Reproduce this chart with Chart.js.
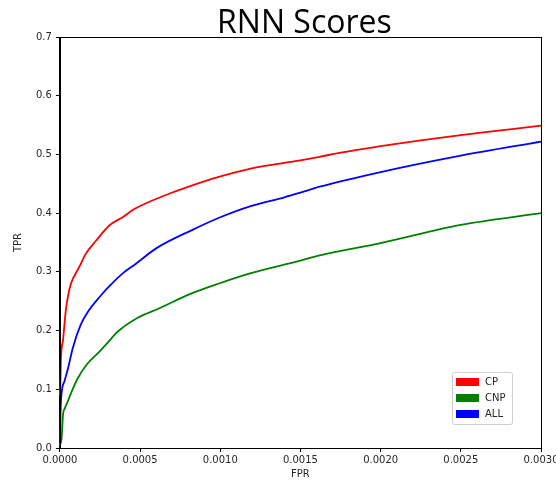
<!DOCTYPE html>
<html>
<head>
<meta charset="utf-8">
<script src="https://cdn.jsdelivr.net/npm/chart.js@4.4.0/dist/chart.umd.min.js"></script>
<style>
  html, body { margin: 0; padding: 0; background: #fff; overflow: hidden; }
  #wrap { position: relative; width: 580px; height: 481px; }
</style>
</head>
<body>
<div id="wrap"><canvas id="rocChart"></canvas></div>
<script>
// FPR / TPR points
const cpFpr  = [0, 0.000002, 0.000006, 0.00002, 0.000037, 0.00005, 0.000069, 0.00012, 0.000162, 0.000225, 0.000308, 0.000391, 0.000464, 0.00058, 0.00068, 0.00079, 0.00098, 0.00119, 0.0015, 0.00162, 0.00175, 0.002, 0.00225, 0.0025, 0.00275, 0.003];
const cpTpr  = [0.09, 0.10, 0.149, 0.185, 0.235, 0.258, 0.28, 0.308, 0.331, 0.353, 0.379, 0.393, 0.407, 0.422, 0.433, 0.444, 0.461, 0.476, 0.490, 0.496, 0.503, 0.514, 0.524, 0.533, 0.541, 0.549];

const cnpFpr = [0, 0.00001, 0.00002, 0.00003, 0.00005, 0.00007, 0.00011, 0.00017, 0.00025, 0.00029, 0.00036, 0.00048, 0.00062, 0.00081, 0.00098, 0.00118, 0.0015, 0.00162, 0.002, 0.0025, 0.003];
const cnpTpr = [0.005, 0.015, 0.058, 0.067, 0.08, 0.094, 0.118, 0.143, 0.165, 0.177, 0.198, 0.221, 0.238, 0.262, 0.279, 0.297, 0.319, 0.328, 0.349, 0.38, 0.40];

const allFpr = [0, 0.000003, 0.000008, 0.00003, 0.00005, 0.00008, 0.00013, 0.00018, 0.00025, 0.00031, 0.00039, 0.00047, 0.0006, 0.00083, 0.001, 0.00119, 0.0014, 0.0015, 0.00162, 0.002, 0.0025, 0.003];
const allTpr = [0.0, 0.05, 0.086, 0.115, 0.135, 0.17, 0.21, 0.234, 0.258, 0.276, 0.297, 0.313, 0.34, 0.372, 0.393, 0.412, 0.427, 0.435, 0.445, 0.470, 0.498, 0.522];

const xTickValues = [0, 0.0005, 0.001, 0.0015, 0.002, 0.0025, 0.003];
const xTickLabels = ['0.0000', '0.0005', '0.0010', '0.0015', '0.0020', '0.0025', '0.0030'];
const yTickValues = [0, 0.1, 0.2, 0.3, 0.4, 0.5, 0.6, 0.7];
const yTickLabels = ['0.0', '0.1', '0.2', '0.3', '0.4', '0.5', '0.6', '0.7'];

const tickFont = { family: 'DejaVu Sans', size: 10 };
const textColor = '#262626';

function toPoints(xs, ys) {
    return xs.map((x, i) => ({ x: x, y: ys[i] }));
}

function setTicks(values) {
    return function (scale) {
        scale.ticks = values.map(v => ({ value: v }));
    };
}

// title over the plot, spines, legend inside the plot
const extras = {
    id: 'extras',
    afterDraw(chart) {
        const ctx = chart.ctx;
        const area = chart.chartArea;
        ctx.save();

        ctx.strokeStyle = '#000';
        ctx.lineWidth = 1;
        ctx.strokeRect(Math.round(area.left) + 0.5, Math.round(area.top) + 0.5,
            Math.round(area.right - area.left), Math.round(area.bottom - area.top));

        ctx.fillStyle = '#000';
        ctx.font = '32px "Open Sans"';
        ctx.textAlign = 'center';
        ctx.textBaseline = 'alphabetic';
        ctx.fillText('RNN Scores', (area.left + area.right) / 2 + 4, 33);

        // legend
        const boxX = area.right - 89, boxY = area.bottom - 76;
        ctx.fillStyle = 'rgba(255,255,255,0.8)';
        ctx.strokeStyle = '#d0d0d0';
        ctx.beginPath();
        ctx.roundRect(boxX + 0.5, boxY + 0.5, 60, 52, 2);
        ctx.fill();
        ctx.stroke();
        ctx.font = '10px "DejaVu Sans"';
        ctx.textAlign = 'left';
        ctx.textBaseline = 'middle';
        chart.data.datasets.forEach((ds, i) => {
            const y = boxY + 10 + i * 16;
            ctx.fillStyle = ds.borderColor;
            ctx.fillRect(boxX + 4, y - 4, 23, 8);
            ctx.fillStyle = textColor;
            ctx.fillText(ds.label, boxX + 33, y);
        });
        ctx.restore();
    }
};

new Chart(document.getElementById('rocChart'), {
    type: 'line',
    data: {
        datasets: [
            { label: 'CP', data: toPoints(cpFpr, cpTpr), borderColor: '#ff0000' },
            { label: 'CNP', data: toPoints(cnpFpr, cnpTpr), borderColor: '#008000' },
            { label: 'ALL', data: toPoints(allFpr, allTpr), borderColor: '#0000ff' }
        ]
    },
    options: {
        responsive: true,
        maintainAspectRatio: false,
        animation: false,
        clip: false,
        elements: {
            line: { borderWidth: 1.8, cubicInterpolationMode: 'monotone', fill: false },
            point: { radius: 0 }
        },
        layout: { padding: { top: 37, right: 39, left: 12, bottom: 0 } },
        plugins: {
            legend: { display: false },
            title: { display: false },
            tooltip: { enabled: false }
        },
        scales: {
            x: {
                type: 'linear',
                min: 0,
                max: 0.003,
                afterBuildTicks: setTicks(xTickValues),
                ticks: {
                    font: tickFont,
                    color: textColor,
                    padding: 2,
                    maxRotation: 0,
                    callback: (v) => xTickLabels[xTickValues.indexOf(v)]
                },
                grid: { display: true, drawOnChartArea: false, drawTicks: true, tickLength: 4, color: '#000' },
                border: { display: true, color: '#000' },
                title: { display: true, text: 'FPR', font: tickFont, color: textColor, padding: { top: 0, bottom: 1 } }
            },
            y: {
                min: 0,
                max: 0.7,
                afterBuildTicks: setTicks(yTickValues),
                ticks: {
                    font: tickFont,
                    color: textColor,
                    padding: 4,
                    callback: (v) => yTickLabels[yTickValues.indexOf(v)]
                },
                grid: { display: true, drawOnChartArea: false, drawTicks: true, tickLength: 4, color: '#000' },
                border: { display: true, color: '#000' },
                title: { display: true, text: 'TPR', font: tickFont, color: textColor, padding: { top: 0, bottom: 8 } }
            }
        }
    },
    plugins: [extras]
});
</script>
</body>
</html>
